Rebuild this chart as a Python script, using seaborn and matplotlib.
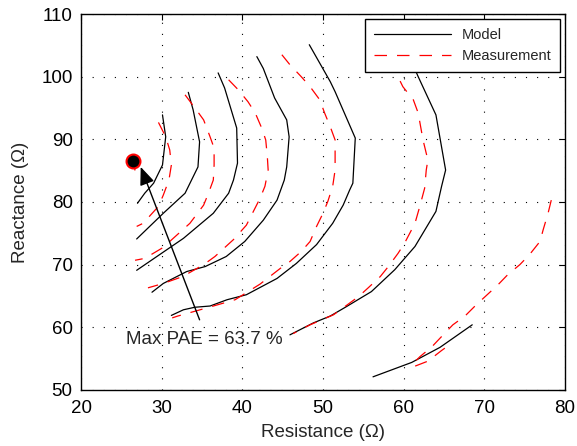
import numpy as np
import pandas as pd
import matplotlib
matplotlib.use("Agg")
import matplotlib.pyplot as plt
from matplotlib.lines import Line2D
import seaborn as sns

# PAE contours: resistance (R) and reactance (X), ohm
model_r = [
    [30.1, 30.5, 30.1, 29.0, 27.9, 27.0],
    [33.3, 33.9, 34.7, 34.5, 33.7, 32.9, 30.2, 26.9],
    [37.0, 37.8, 39.3, 39.4, 38.9, 38.3, 36.4, 32.7, 26.9],
    [41.8, 42.6, 44.0, 45.5, 45.8, 45.5, 45.2, 44.3, 42.6, 40.3, 38.0, 35.4, 33.1, 30.2, 28.8],
    [48.3, 50.9, 51.5, 54.0, 53.7, 53.3, 52.5, 51.2, 49.2, 46.7, 44.3, 40.5, 38.1, 36.0, 34.1, 32.7, 31.2],
    [60.6, 61.8, 64.0, 65.2, 64.7, 64.0, 61.4, 58.9, 56.0, 52.9, 50.9, 48.8, 45.9],
    [56.2, 61.0, 64.5, 68.5],
]
model_x = [
    [93.9, 90.4, 85.9, 83.0, 81.4, 79.8],
    [97.5, 94.7, 89.6, 85.6, 83.5, 81.4, 78.2, 74.1],
    [100.6, 98.2, 91.8, 86.2, 83.5, 81.4, 78.2, 74.2, 69.1],
    [103.2, 101.3, 96.6, 93.1, 90.4, 85.6, 83.5, 80.3, 77.1, 73.7, 71.3, 69.7, 68.9, 67.0, 65.6],
    [105.1, 99.2, 97.6, 90.2, 83.0, 81.9, 79.5, 76.6, 73.2, 70.2, 67.8, 65.2, 64.4, 63.4, 63.2, 62.8, 61.9],
    [103.5, 100.0, 93.9, 85.1, 82.5, 78.5, 72.9, 69.2, 65.7, 63.3, 61.8, 60.7, 58.8],
    [52.1, 54.4, 56.8, 60.4],
]

meas_r = [
    [26.9, 26.7, 26.6],
    [29.6, 30.5, 31.0, 31.2, 30.9, 30.2, 29.6, 27.7, 26.9],
    [32.9, 34.3, 35.2, 36.0, 36.5, 36.5, 36.4, 35.8, 35.2, 33.5, 31.0, 30.0, 27.9, 26.7],
    [38.3, 39.5, 40.7, 41.6, 42.4, 42.9, 43.1, 43.2, 42.8, 42.2, 40.5, 38.9, 36.6, 35.2, 32.6, 30.2, 28.3],
    [44.9, 45.9, 47.3, 48.4, 49.6, 50.2, 50.9, 51.5, 51.5, 51.2, 50.6, 50.0, 49.2, 48.4, 47.3, 45.9,
     44.7, 42.2, 39.1, 35.6, 32.0, 31.3],
    [58.3, 59.1, 59.9, 61.2, 61.8, 62.4, 63.0, 62.8, 62.6, 62.0, 61.4, 60.1, 59.3, 58.1, 57.1, 55.6,
     54.4, 52.7, 51.3, 48.4, 46.3],
    [78.3, 77.9, 77.3, 76.9, 75.6, 74.4, 72.9, 71.7, 70.1, 69.0, 67.6, 66.1, 64.9, 63.5, 62.0, 61.0,
     61.4, 63.0, 64.7, 66.1],
]
meas_x = [
    [87.0, 85.5, 84.0],
    [92.7, 90.4, 88.3, 85.9, 83.5, 81.1, 79.3, 76.6, 76.1],
    [97.1, 94.7, 93.1, 90.4, 88.6, 85.9, 83.5, 81.4, 79.5, 76.6, 73.7, 72.6, 71.0, 70.7],
    [99.5, 97.9, 96.0, 94.2, 91.8, 89.9, 87.2, 85.1, 82.5, 80.6, 76.3, 74.0, 71.3, 70.0, 68.1, 67.0, 66.3],
    [103.5, 101.9, 100.0, 98.4, 96.3, 94.2, 92.0, 89.9, 85.1, 82.5, 80.1, 78.2, 76.1, 73.7, 72.1, 70.5,
     69.4, 66.9, 64.4, 63.1, 61.8, 61.5],
    [102.5, 100.5, 98.4, 96.3, 94.2, 89.9, 86.7, 85.1, 82.2, 79.3, 76.6, 73.4, 71.8, 69.7, 68.1, 66.3,
     64.9, 63.3, 62.0, 60.4, 59.0],
    [80.3, 78.2, 75.6, 73.7, 71.6, 70.0, 68.4, 66.8, 64.9, 63.6, 61.8, 60.4, 58.8, 56.9, 55.3, 54.0,
     53.8, 54.6, 56.3, 57.6],
]

# optimum point and annotation
max_pae_r, max_pae_x = 26.4, 86.6
arrow_tip = (27.4, 85.6)
arrow_tail = (34.7, 61.2)
label_pos = (35.24, 58.0)
label_text = "Max PAE = 63.7 %"

# long table, one unit per contour
rows = []
for name, rr, xx in [("Model", model_r, model_x), ("Measurement", meas_r, meas_x)]:
    for i, (rs, xs) in enumerate(zip(rr, xx)):
        for r, x in zip(rs, xs):
            rows.append((name + str(i), name, r, x))
df = pd.DataFrame(rows, columns=["curve", "source", "R", "X"])

sns.set_style("white")
plt.rcParams["font.family"] = ["Liberation Sans", "DejaVu Sans"]

fig = plt.figure(figsize=(5.77, 4.46), dpi=100)
ax = fig.add_axes([0.1404, 0.1256, 0.8388, 0.843])

meas_dash = (10, 8)
sns.lineplot(data=df, x="R", y="X", units="curve", estimator=None, sort=False,
             hue="source", style="source",
             palette={"Model": "black", "Measurement": "red"},
             dashes={"Model": "", "Measurement": meas_dash},
             linewidth=0.9, legend=False, ax=ax)

ax.plot(max_pae_r, max_pae_x, "o", mfc="black", mec="red", ms=10, mew=1.5, zorder=6)
ax.annotate("", xy=arrow_tip, xytext=arrow_tail,
            arrowprops=dict(arrowstyle="-|>,head_length=1.1,head_width=0.45", mutation_scale=10,
                            color="black", lw=1.0, shrinkA=0, shrinkB=0), zorder=6)
ax.text(label_pos[0], label_pos[1], label_text, ha="center", va="center", fontsize=13.5)

ax.set_xlim(20, 80)
ax.set_ylim(50, 110)
ax.set_xticks(np.arange(20, 81, 10))
ax.set_yticks(np.arange(50, 111, 10))
ax.grid(True, color="black", linestyle=(0, (1, 9)), linewidth=0.8)
ax.tick_params(direction="in", top=True, right=True, length=4, width=0.8,
               labelsize=13.5, colors="black")
ax.tick_params(axis="x", pad=7)
ax.tick_params(axis="y", pad=6)
for s in ax.spines.values():
    s.set_color("black")
    s.set_linewidth(1.0)

ax.set_xlabel("Resistance (Ω)", fontsize=13.5)
ax.set_ylabel("Reactance (Ω)", fontsize=13.5)
ax.xaxis.set_label_coords(0.5, -0.09)
ax.yaxis.set_label_coords(-0.107, 0.5)

handles = [Line2D([], [], color="black", lw=0.9),
           Line2D([], [], color="red", lw=0.9, dashes=meas_dash)]
leg = ax.legend(handles, ["Model", "Measurement"], loc="upper right", fontsize=10.5,
                frameon=True, fancybox=False, edgecolor="black", framealpha=1,
                handlelength=5.3, handletextpad=0.7, borderpad=0.6,
                borderaxespad=0.35, labelspacing=0.5)
leg.get_frame().set_linewidth(1.0)

fig.savefig("out.png", dpi=100)
